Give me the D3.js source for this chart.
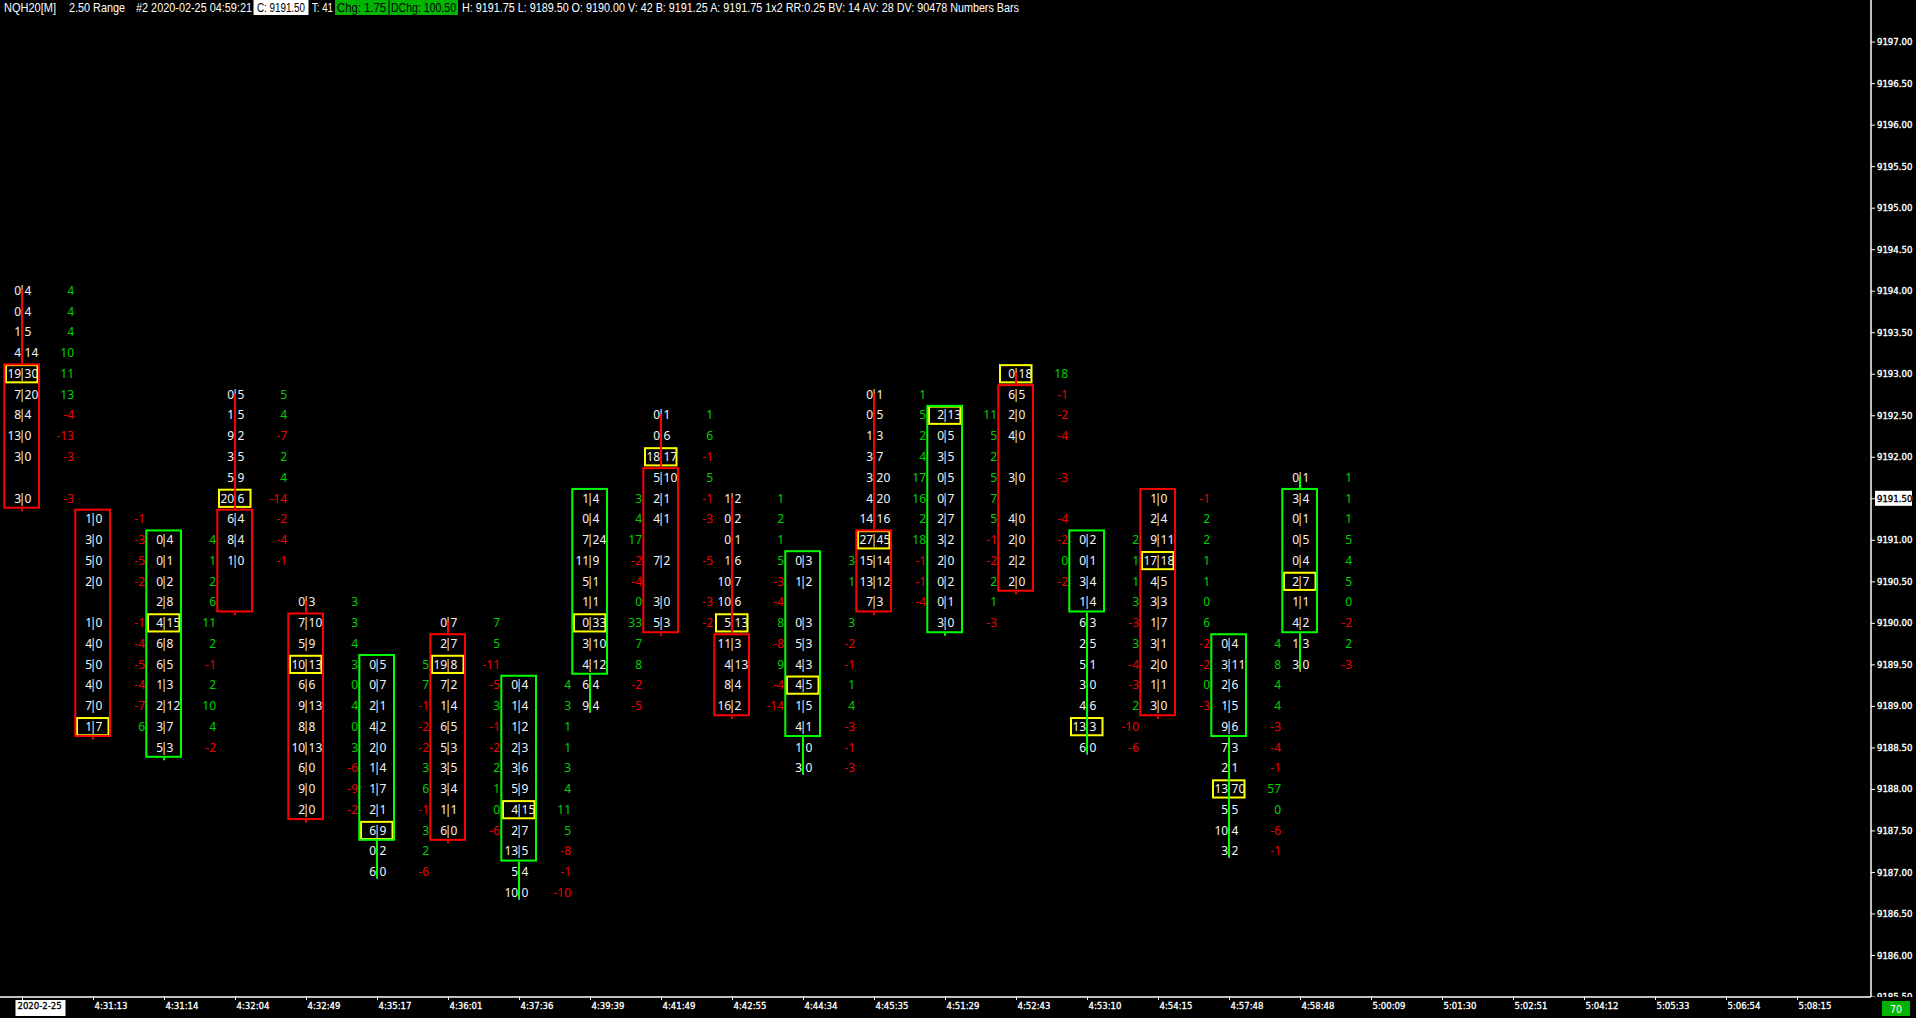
<!DOCTYPE html>
<html>
<head>
<meta charset="utf-8">
<script src="https://cdn.jsdelivr.net/npm/d3@7/dist/d3.min.js"></script>
<style>
html, body { margin: 0; padding: 0; background: #000; overflow: hidden; }
svg { display: block; }
</style>
</head>
<body>
<svg id="chart" width="1916" height="1018"></svg>
<script>
var width = 1916, height = 1018;

// x axis labels: one per bar, then the empty slots to the right
var timeLabels = ["2020-2-25","4:31:13","4:31:14","4:32:04","4:32:49","4:35:17","4:36:01","4:37:36","4:39:39",
  "4:41:49","4:42:55","4:44:34","4:45:35","4:51:29","4:52:43","4:53:10","4:54:15","4:57:48","4:58:48",
  "5:00:09","5:01:30","5:02:51","5:04:12","5:05:33","5:06:54","5:08:15"];

// OHLC of the 2.50 range bars (low = last footprint row)
var barOpen  = [9193.00,9191.25,9188.50,9191.25,9190.00,9187.50,9189.75,9187.25,9189.50,9191.75,9189.75,9188.75,9191.00,9190.00,9192.75,9190.25,9191.50,9188.75,9190.00];
var barClose = [9191.50,9188.75,9191.00,9190.25,9187.75,9189.50,9187.50,9189.25,9191.50,9190.00,9189.00,9190.75,9190.25,9192.50,9190.50,9191.00,9189.00,9189.75,9191.50];
var barHigh  = [9194.00,9191.25,9191.00,9192.75,9190.25,9189.50,9190.00,9189.25,9191.50,9192.50,9191.50,9190.75,9192.75,9192.50,9193.00,9191.00,9191.50,9189.75,9191.75];

// footprint volumes per price row, from the high downwards (null = no trades)
var bidVol = [
  [0,0,1,4,19,7,8,13,3,null,3],
  [1,3,5,2,null,1,4,5,4,7,1],
  [0,0,0,2,4,6,6,1,2,3,5],
  [0,1,9,3,5,20,6,8,1,null,null],
  [0,7,5,10,6,9,8,10,6,9,2],
  [0,0,2,4,2,1,1,2,6,0,6],
  [0,2,19,7,1,6,5,3,3,1,6],
  [0,1,1,2,3,5,4,2,13,5,10],
  [1,0,7,11,5,1,0,3,4,6,9],
  [0,0,18,5,2,4,null,7,null,3,5],
  [1,0,0,1,10,10,5,11,4,8,16],
  [0,1,null,0,5,4,4,1,4,1,3],
  [0,0,1,3,3,4,14,27,15,13,7],
  [2,0,3,0,0,2,3,2,0,0,3],
  [0,6,2,4,null,3,null,4,2,2,2],
  [0,0,3,1,6,2,5,3,4,13,6],
  [1,2,9,17,4,3,1,3,2,1,3],
  [0,3,2,1,9,7,2,13,5,10,3],
  [0,3,0,0,0,2,1,4,1,3]
];
var askVol = [
  [4,4,5,14,30,20,4,0,0,null,0],
  [0,0,0,0,null,0,0,0,0,0,7],
  [4,1,2,8,15,8,5,3,12,7,3],
  [5,5,2,5,9,6,4,4,0,null,null],
  [3,10,9,13,6,13,8,13,0,0,0],
  [5,7,1,2,0,4,7,1,9,2,0],
  [7,7,8,2,4,5,3,5,4,1,0],
  [4,4,2,3,6,9,15,7,5,4,0],
  [4,4,24,9,1,1,33,10,12,4,4],
  [1,6,17,10,1,1,null,2,null,0,3],
  [2,2,1,6,7,6,13,3,13,4,2],
  [3,2,null,3,3,3,5,5,1,0,0],
  [1,5,3,7,20,20,16,45,14,12,3],
  [13,5,5,5,7,7,2,0,2,1,0],
  [18,5,0,0,null,0,null,0,0,2,0],
  [2,1,4,4,3,5,1,0,6,3,0],
  [0,4,11,18,5,3,7,1,0,1,0],
  [4,11,6,5,6,3,1,70,5,4,2],
  [1,4,1,5,4,7,1,2,3,0]
];

var priceTicks = [9197.00,9196.50,9196.00,9195.50,9195.00,9194.50,9194.00,9193.50,9193.00,9192.50,9192.00,
  9191.50,9191.00,9190.50,9190.00,9189.50,9189.00,9188.50,9188.00,9187.50,9187.00,9186.50,9186.00,9185.50];
var lastPrice = 9191.50;
var tickSizePts = 0.25;

var headerText = ["NQH20[M]", "2.50 Range", "#2 2020-02-25 04:59:21", "C: 9191.50", "T: 41", "Chg: 1.75", "DChg: 100.50",
  "H: 9191.75 L: 9189.50 O: 9190.00 V: 42 B: 9191.25 A: 9191.75 1x2 RR:0.25 BV: 14 AV: 28 DV: 90478 Numbers Bars"];
var headerLayout = [
  {x: 4, w: 52}, {x: 69, w: 56}, {x: 136, w: 116},
  {x: 257, w: 48, bg: "#ffffff", bx: 253.5, bw: 55, fg: "#000"},
  {x: 312, w: 21},
  {x: 337, w: 49, bg: "#00b400", bx: 335, bw: 53.5, fg: "#000"},
  {x: 391, w: 65, bg: "#00b400", bx: 389.5, bw: 68.5, fg: "#000"},
  {x: 462, w: 557}
];
var footerCount = "70";

var upColor = "#00ff00", downColor = "#ff0000", pocColor = "#ffff00";
var deltaUp = "#00d000", deltaDown = "#ee0000";
var textColor = "#f4f4f4";
var numFont = "'Noto Sans', 'DejaVu Sans', sans-serif";
var axisFont = "'DejaVu Sans Condensed', 'DejaVu Sans', sans-serif";

var axisX = 1871, axisY = 997;

var svg = d3.select("#chart");
svg.append("rect").attr("width", width).attr("height", height).attr("fill", "#000");

var x = d3.scaleLinear().domain([0, timeLabels.length - 1]).range([22, 22 + 71 * (timeLabels.length - 1)]);
var y = d3.scaleLinear().domain([9197, 9186]).range([41.6, 955.0]);
var rowH = y(9186) - y(9186 + tickSizePts);

svg.append("defs").append("clipPath").attr("id", "plotclip")
  .append("rect").attr("x", 0).attr("y", 0).attr("width", width).attr("height", axisY);

// ***************** footprint bars *****************
var plot = svg.append("g").attr("clip-path", "url(#plotclip)");

barOpen.forEach(function(open, i) {
  var cx = x(i);
  var close = barClose[i];
  var up = close >= open;
  var col = up ? upColor : downColor;
  var rows = bidVol[i].map(function(b, k) {
    return {price: barHigh[i] - k * tickSizePts, bid: b, ask: askVol[i][k]};
  });
  var low = rows[rows.length - 1].price;
  var bodyTop = Math.max(open, close), bodyBot = Math.min(open, close);

  // point of control: the row with the largest total volume (top one on ties)
  var poc = null, pocVol = -1;
  rows.forEach(function(r) {
    if (r.bid == null) return;
    if (r.bid + r.ask > pocVol) { pocVol = r.bid + r.ask; poc = r; }
  });

  var g = plot.append("g");
  var filled = rows.filter(function(r) { return r.bid != null; });

  g.selectAll("text.bid").data(filled).enter().append("text")
    .attr("x", cx - 0.8).attr("y", function(r) { return y(r.price) + 4.2; })
    .attr("text-anchor", "end").attr("fill", textColor)
    .style("font", "12px " + numFont).text(function(r) { return r.bid; });
  g.selectAll("text.sep").data(filled).enter().append("text")
    .attr("x", cx).attr("y", function(r) { return y(r.price) + 4.2; })
    .attr("text-anchor", "middle").attr("fill", textColor)
    .style("font", "12px " + numFont).text("|");
  g.selectAll("text.ask").data(filled).enter().append("text")
    .attr("x", cx + 2.6).attr("y", function(r) { return y(r.price) + 4.2; })
    .attr("text-anchor", "start").attr("fill", textColor)
    .style("font", "12px " + numFont).text(function(r) { return r.ask; });
  g.selectAll("text.delta").data(filled).enter().append("text")
    .attr("x", cx + 52).attr("y", function(r) { return y(r.price) + 4.2; })
    .attr("text-anchor", "end")
    .attr("fill", function(r) { return r.ask - r.bid >= 0 ? deltaUp : deltaDown; })
    .style("font", "12px " + numFont).text(function(r) { return r.ask - r.bid; });

  if (poc) {
    g.append("rect")
      .attr("x", cx - 16).attr("width", 31.5)
      .attr("y", y(poc.price) - 8.6).attr("height", 17.2)
      .attr("fill", "none").attr("stroke", pocColor).attr("stroke-width", 2);
  }

  var boxTop = y(bodyTop) - rowH / 2, boxBot = y(bodyBot) + rowH / 2;
  // wicks, drawn over the separators outside the body
  if (barHigh[i] > bodyTop) {
    g.append("line").attr("x1", cx).attr("x2", cx)
      .attr("y1", y(barHigh[i]) - 1).attr("y2", boxTop)
      .attr("stroke", col).attr("stroke-width", 2);
  }
  g.append("line").attr("x1", cx).attr("x2", cx)
    .attr("y1", boxBot).attr("y2", Math.max(y(low) + 5.5, boxBot + 2.5))
    .attr("stroke", col).attr("stroke-width", 2);

  g.append("rect")
    .attr("x", cx - 17.7).attr("width", 34.7)
    .attr("y", boxTop + 1).attr("height", boxBot - boxTop - 2)
    .attr("fill", "none").attr("stroke", col).attr("stroke-width", 2);
});

// ***************** price axis *****************
var yAxis = d3.axisRight(y).tickValues(priceTicks).tickFormat(d3.format(".2f")).tickSize(4).tickPadding(2);
var gy = svg.append("g").attr("clip-path", "url(#plotclip)").append("g")
  .attr("transform", "translate(" + axisX + ",0)").call(yAxis);
gy.select(".domain").remove();
gy.selectAll(".tick line").attr("stroke", "#fff");
gy.selectAll(".tick text").attr("fill", "#fff").attr("stroke", "#fff").attr("stroke-width", 0.35)
  .style("font", "9.5px " + axisFont);

svg.append("line").attr("x1", axisX).attr("x2", axisX).attr("y1", 0).attr("y2", axisY)
  .attr("stroke", "#fff").attr("stroke-width", 1.5);

var lastG = svg.append("g").attr("transform", "translate(" + (axisX + 4) + "," + y(lastPrice) + ")");
lastG.append("rect").attr("x", 0).attr("y", -7.5).attr("width", 37).attr("height", 15).attr("fill", "#fff");
lastG.append("text").attr("x", 2).attr("y", 3.4).attr("fill", "#000").attr("stroke", "#000").attr("stroke-width", 0.35)
  .style("font", "9.5px " + axisFont).text(d3.format(".2f")(lastPrice));

// ***************** time axis *****************
var xAxis = d3.axisBottom(x).tickValues(d3.range(timeLabels.length))
  .tickFormat(function(i) { return timeLabels[i]; }).tickSize(3).tickPadding(0);
var gx = svg.append("g").attr("transform", "translate(0," + axisY + ")").call(xAxis);
gx.select(".domain").remove();
gx.selectAll(".tick line").attr("stroke", "#fff");
gx.selectAll(".tick text").attr("fill", "#fff").attr("stroke", "#fff").attr("stroke-width", 0.3)
  .attr("text-anchor", "start")
  .attr("x", 1).attr("y", 5.5).attr("dy", "0.71em").style("font", "9.5px " + axisFont);

svg.append("line").attr("x1", 0).attr("x2", axisX).attr("y1", axisY).attr("y2", axisY)
  .attr("stroke", "#fff").attr("stroke-width", 1.5);

// date label sits on a white tag
var firstTick = gx.selectAll(".tick").filter(function(d) { return d === 0; });
firstTick.insert("rect", "text").attr("x", -7).attr("y", 3).attr("width", 50).attr("height", 16).attr("fill", "#fff");
firstTick.select("text").attr("fill", "#000").attr("stroke", "#000").attr("x", -5);

svg.append("rect").attr("x", 1882).attr("y", 1001).attr("width", 28).attr("height", 15).attr("fill", "#00b400");
svg.append("text").attr("x", 1896).attr("y", 1012.5).attr("text-anchor", "middle").attr("fill", "#fff")
  .style("font", "10.5px " + axisFont).text(footerCount);

// ***************** header line *****************
var header = svg.append("g");
headerText.forEach(function(t, k) {
  var l = headerLayout[k];
  if (l.bg) {
    header.append("rect").attr("x", l.bx).attr("y", 0).attr("width", l.bw).attr("height", 15).attr("fill", l.bg);
  }
  header.append("text").attr("x", l.x).attr("y", 12)
    .attr("fill", l.fg || "#fff")
    .attr("textLength", l.w).attr("lengthAdjust", "spacingAndGlyphs")
    .style("font", "12px 'Liberation Sans Narrow', 'Liberation Sans', sans-serif")
    .text(t);
});
</script>
</body>
</html>
